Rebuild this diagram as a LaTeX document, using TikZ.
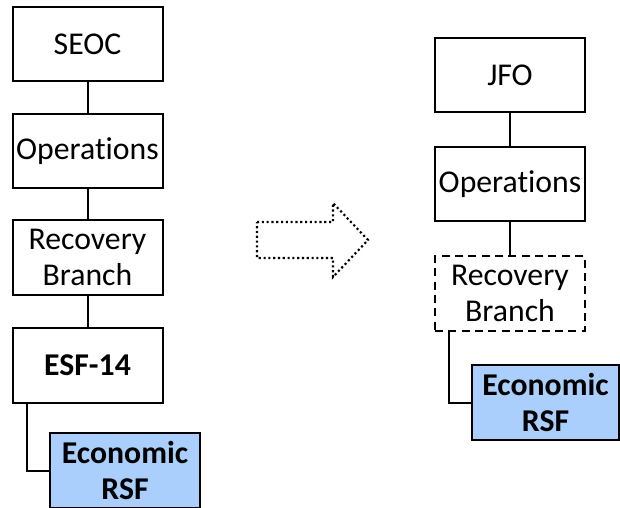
\documentclass[tikz,border=0pt]{standalone}
\usepackage{fontspec}
\setmainfont[Ligatures=NoCommon]{Carlito}
\usetikzlibrary{calc}
\definecolor{rsfblue}{RGB}{170,207,252}
\begin{document}
\begin{tikzpicture}[x=0.75pt,y=-0.75pt,
  unit/.style={draw=black,line width=1.5pt,fill=white,minimum width=112.5pt,
    minimum height=56pt,inner sep=0pt,align=center,
    font=\fontsize{23.8}{26.5}\selectfont},
  rsf/.style={unit,fill=rsfblue,font=\fontsize{23.8}{26.5}\selectfont\bfseries},
  link/.style={line width=1.5pt}]
\useasboundingbox (0,0) rectangle (620,507);

% Current structure
\node[unit] (seoc) at (87.5,44) {SEOC};
\node[unit] (ops1) at (87.5,151) {Operations};
\node[unit] (rec1) at (87.5,257.5) {Recovery\\Branch};
\node[unit,font=\fontsize{23.8}{26.5}\selectfont\bfseries] (esf) at (87.5,365.5) {ESF-14};
\node[rsf] (econ1) at (125,470.5) {Economic\\RSF};
\coordinate (lk1) at (27,0);

\draw[link] (seoc) -- (ops1);
\draw[link] (ops1) -- (rec1);
\draw[link] (rec1) -- (esf);
\draw[link] (esf.south -| lk1) |- (econ1.west);

% Transition arrow
\draw[dotted,line width=1.6pt] (257,222) -- (333,222) -- (333,203) -- (368,240)
  -- (333,277) -- (333,258) -- (257,258) -- cycle;

% Future structure
\node[unit] (jfo) at (510,75) {JFO};
\node[unit] (ops2) at (510,184) {Operations};
\node[unit,dash pattern=on 6pt off 4pt] (rec2) at (510,293.5) {Recovery\\Branch};
\node[rsf,minimum width=110pt] (econ2) at (545.5,402.5) {Economic\\RSF};
\coordinate (lk2) at (449,0);

\draw[link] (jfo) -- (ops2);
\draw[link] (ops2) -- (rec2);
\draw[link] (rec2.south -| lk2) |- (econ2.west);
\end{tikzpicture}
\end{document}
